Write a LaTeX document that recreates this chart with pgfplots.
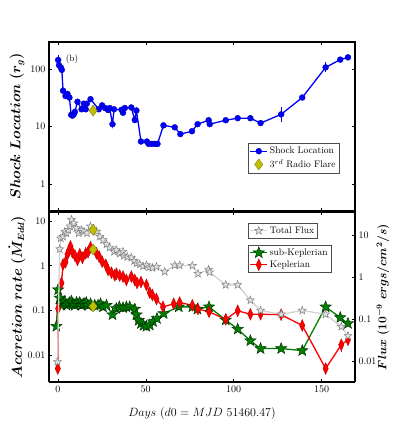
\documentclass[border=0pt]{standalone}
\usepackage{bm}
\usepackage{pgfplots}
\pgfplotsset{compat=1.18}
\definecolor{mblue}{RGB}{0,0,255}
\definecolor{mgreen}{RGB}{0,128,0}
\definecolor{mred}{RGB}{255,0,0}
\definecolor{myellow}{RGB}{191,191,0}
\definecolor{mgrey}{RGB}{211,211,211}

% filled five-pointed star, like matplotlib's '*'
\pgfdeclareplotmark{fstar}{%
  \pgfpathmoveto{\pgfpointpolar{90}{\pgfplotmarksize}}%
  \pgfpathlineto{\pgfpointpolar{126}{0.42\pgfplotmarksize}}%
  \pgfpathlineto{\pgfpointpolar{162}{\pgfplotmarksize}}%
  \pgfpathlineto{\pgfpointpolar{198}{0.42\pgfplotmarksize}}%
  \pgfpathlineto{\pgfpointpolar{234}{\pgfplotmarksize}}%
  \pgfpathlineto{\pgfpointpolar{270}{0.42\pgfplotmarksize}}%
  \pgfpathlineto{\pgfpointpolar{306}{\pgfplotmarksize}}%
  \pgfpathlineto{\pgfpointpolar{342}{0.42\pgfplotmarksize}}%
  \pgfpathlineto{\pgfpointpolar{18}{\pgfplotmarksize}}%
  \pgfpathlineto{\pgfpointpolar{54}{0.42\pgfplotmarksize}}%
  \pgfpathclose
  \pgfusepathqfillstroke}

\pgfplotsset{
  accaxis/.style={
    scale only axis, width=306pt,
    xmin=-5, xmax=169,
    axis line style={line width=1.3pt},
    tick align=inside, major tick length=3pt,
    tick style={black, thin},
    yminorticks=false, xminorticks=false,
    tick label style={font=\fontsize{10}{12}\selectfont},
    legend style={font=\fontsize{9.5}{11}\selectfont, draw=black!70, thin,
      fill=white, inner sep=1.5pt},
    legend cell align=left,
  },
  % label is rotated by 90, so its yshift moves it to the left on the page
  leftlabel/.style={ylabel style={at={(rel axis cs:0,0.5)}, yshift=32pt,
      anchor=center, font=\fontsize{13.5}{16}\selectfont}},
}

\begin{document}
\begin{tikzpicture}
% ---------------- top panel: shock location ----------------
\begin{axis}[accaxis, ymode=log, leftlabel,
  at={(0pt,171pt)}, anchor=south west, height=169pt,
  ymin=0.34, ymax=296,
  xtick={0,50,100,150}, xticklabels={,,,},
  ytick={1,10,100}, yticklabels={1,10,100},
  ylabel={$\bm{Shock\ Location\ (r_g)}$},
  legend style={at={(0.65,0.40)}, anchor=north west},
]
\addplot[mblue, line width=1.3pt, mark=*, mark size=3pt,
  mark options={fill=mblue, draw=mblue!60!black, line width=0.3pt}]
  coordinates {
    (0.2,144)(0.7,117)(1.7,107)(2.3,97)(3,42)(4.4,34)(5.5,37)(6.6,32)
    (7.6,16)(8.3,15.5)(9.1,16.3)(9.7,18)(11.2,27)(13.5,20)(14.8,25)
    (15.9,20)(16.5,25)(18.6,30)(23.3,20)(25.2,23.4)(26.9,21)(28.6,19.4)
    (29.5,21)(31.1,11)(32,20)(36.2,19.6)(37.1,17.4)(38.1,21)(41.8,21.5)
    (43.8,13)(44.7,19)(47.3,5.5)(50.7,5.5)(51.6,5.0)(53.5,5)(55.2,5)
    (56.7,5)(60.1,10.5)(66.5,9.7)(69.7,7.4)(76.3,8.3)(79.5,11)(85.8,12.9)
    (86.4,11)(95.5,12.9)(102.3,14)(109.5,14)(115.3,11.5)(127,16.3)
    (139,32)(152.3,107)(160.6,146)(165,160)};
\addlegendentry{Shock Location}
\addplot[only marks, mark=diamond*, mark size=5.5pt,
  mark options={fill=myellow, draw=myellow!60!black, line width=0.3pt}]
  coordinates {(20.1,19)};
\addlegendentry{3$^{rd}$ Radio Flare}
% error bars
\addplot[forget plot, mblue, thin, unbounded coords=jump]
  coordinates {(0.2,118)(0.2,175) (0.2,nan) (127,12)(127,22) (127,nan)
    (152.3,88)(152.3,132)};
\node at (rel axis cs:0.075,0.9) {\small (b)};
\end{axis}

% ---------------- bottom panel: accretion rates ----------------
\begin{axis}[accaxis, ymode=log, leftlabel,
  at={(0pt,0pt)}, anchor=south west, height=170pt,
  ymin=0.0025, ymax=15.9,
  axis y line*=left,
  xtick={0,50,100,150}, xticklabels={0,50,100,150},
  ytick={0.01,0.1,1,10}, yticklabels={0.01,0.1,1,10},
  xlabel={$Days\ (d0 = MJD\ 51460.47)$},
  xlabel style={at={(rel axis cs:0.5,0)}, yshift=-31pt, anchor=center,
    font=\fontsize{12}{14}\selectfont},
  ylabel={$\bm{Accretion\ rate\ (\dot{M}_{Edd})}$},
  legend style={at={(0.65,0.806)}, anchor=north west},
]
\addplot[mgreen, line width=1.3pt, mark=fstar, mark size=6pt,
  mark options={fill=mgreen, draw=black!70!mgreen, line width=0.4pt}]
  coordinates {
    (-0.8,0.044)(0.2,0.29)(1.1,0.19)(2.1,0.13)(3,0.15)(4,0.16)(5,0.13)
    (5.9,0.14)(6.8,0.15)(7.8,0.16)(8.7,0.14)(9.7,0.13)(10.6,0.15)
    (11.5,0.14)(12.5,0.15)(13.5,0.13)(14.4,0.14)(15.3,0.14)(16.2,0.15)
    (17.2,0.13)(18.6,0.14)(21,0.13)(22.9,0.13)(24.3,0.14)(25.7,0.12)
    (27.7,0.13)(31.1,0.08)(33.3,0.11)(35,0.12)(37.1,0.115)(39,0.12)
    (40.9,0.12)(43.8,0.107)(44.7,0.08)(46,0.06)(47.3,0.051)(48.8,0.046)
    (50.4,0.044)(52.3,0.047)(54.2,0.056)(56.4,0.066)(60.2,0.085)
    (68.8,0.12)(76.5,0.12)(79.4,0.107)(86,0.12)(95.5,0.061)(102.3,0.038)
    (109.5,0.021)(115.3,0.014)(127,0.014)(139,0.0126)(152.3,0.12)
    (160.6,0.069)(165,0.051)};
\addlegendentry{sub-Keplerian}
\addplot[mred, line width=1.3pt, mark=diamond*, mark size=6pt,
  mark options={xscale=0.6, fill=mred, draw=mred!70!black, line width=0.3pt}]
  coordinates {
    (0,0.005)(0.2,0.11)(2.1,0.41)(3,1.07)(4.4,1.2)(5.5,1.8)(6.4,2.2)
    (7.2,2.7)(8.3,2.0)(9.7,1.7)(11.2,1.35)(12.5,1.8)(14,1.5)(15.9,1.9)
    (17.2,2.0)(18.6,2.6)(22,1.9)(23.5,1.6)(25.2,1.23)(27.3,1.05)
    (28.6,0.8)(30.5,0.7)(32.4,0.61)(33.3,0.66)(35.2,0.6)(37.1,0.57)
    (39,0.48)(41.8,0.57)(43.8,0.48)(45.1,0.41)(47.3,0.43)(50.4,0.37)
    (52.3,0.25)(53.8,0.22)(56.1,0.18)(59.8,0.12)(65.9,0.14)(69.3,0.15)
    (76.5,0.13)(79.7,0.107)(86,0.093)(95.5,0.063)(102.3,0.098)
    (109.5,0.082)(115.3,0.082)(127,0.08)(139,0.046)(152.3,0.005)
    (161.2,0.017)(165,0.022)};
\addlegendentry{Keplerian}
% error bars
\addplot[forget plot, mred, thin, unbounded coords=jump]
  coordinates {(127,0.065)(127,0.095) (127,nan) (161.2,0.012)(161.2,0.023)
    (161.2,nan) (165,0.018)(165,0.027)};
\end{axis}

% ---------------- bottom panel: total flux (right axis) ----------------
\begin{axis}[accaxis, ymode=log,
  at={(0pt,0pt)}, anchor=south west, height=170pt,
  ymin=0.0032, ymax=35,
  axis y line*=right, axis x line=none,
  ytick={0.01,0.1,1,10}, yticklabels={0.01,0.1,1,10},
  ylabel={$\bm{Flux\ (10^{-9}\ ergs/cm^2/s)}$},
  ylabel style={at={(rel axis cs:1,0.5)}, yshift=-28pt,
    anchor=center, font=\fontsize{12}{14}\selectfont},
  legend style={at={(0.65,0.935)}, anchor=north west},
]
\addplot[mgrey, line width=1.3pt, mark=fstar, mark size=4.2pt,
  mark options={fill=black!12, draw=black!50, line width=0.5pt}]
  coordinates {
    (-0.2,0.0096)(1.1,4.6)(1.7,8.3)(3,9.1)(4,12)(4.9,11)(6,13)(7,16)
    (7.8,23)(9.1,19)(10.6,14.5)(11.9,11)(13.5,13)(14.9,12)(16.6,11)
    (18.6,16)(22,12)(23.9,9.1)(25.7,7.6)(27.7,6.0)(29.5,5.0)(32,4.0)
    (33.3,4.4)(35.2,3.6)(37.1,4)(37.5,3.2)(39.5,3.0)(41.8,2.9)(43.4,2.4)
    (44.7,2.1)(46.6,2.0)(48.5,1.8)(50.4,1.9)(51.9,1.7)(53.8,1.65)
    (56.1,1.75)(60.8,1.34)(66.5,1.9)(69.3,1.9)(76.5,1.85)(79.7,1.2)
    (85.8,1.5)(86.4,1.3)(95.5,0.65)(102.3,0.65)(109.5,0.28)(115.3,0.16)
    (127,0.13)(139,0.16)(152.3,0.13)(161.2,0.066)(165,0.040)};
\addlegendentry{Total Flux}
% radio flare markers on the three curves (values in this axis' scale)
\addplot[forget plot, only marks, mark=diamond*, mark size=5.5pt,
  mark options={fill=myellow, draw=myellow!60!black, line width=0.3pt}]
  coordinates {(20.1,13.2)(20.1,4.5)(20.1,0.20)};
\end{axis}

\pgfresetboundingbox
\path (-49pt,-43pt) rectangle (346pt,382pt);
\end{tikzpicture}
\end{document}
